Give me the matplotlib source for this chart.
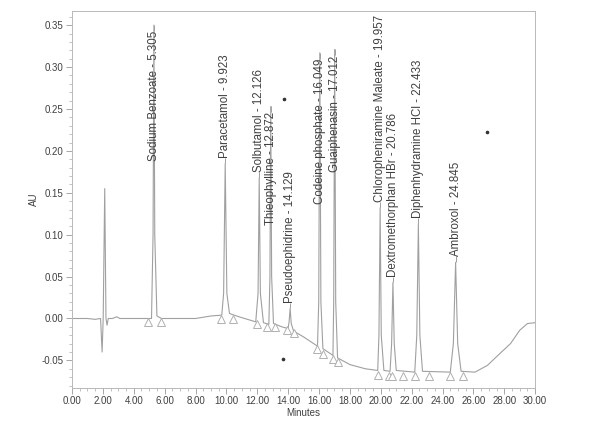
import matplotlib
matplotlib.use("Agg")
import matplotlib.pyplot as plt
from matplotlib.ticker import MultipleLocator, FormatStrFormatter

plt.rcParams['font.family'] = ['Liberation Sans', 'DejaVu Sans']

#-----Data-----#
# detector trace, minutes vs AU
trace_min = [0.0, 1.0, 1.5, 1.85, 1.95, 2.02, 2.12, 2.2, 2.27, 2.35, 2.6, 2.9, 3.1, 4.9,
             5.15, 5.25, 5.305, 5.36, 5.5, 5.8, 8.0, 9.0, 9.7,
             9.82, 9.923, 10.03, 10.2, 10.5, 11.0, 11.9,
             12.05, 12.126, 12.2, 12.4, 12.75,
             12.82, 12.872, 12.93, 13.05, 13.6, 14.0,
             14.06, 14.129, 14.2, 14.35, 15.0, 15.9,
             15.98, 16.049, 16.12, 16.25, 16.9,
             16.95, 17.012, 17.08, 17.2, 18.0, 19.0, 19.8,
             19.88, 19.957, 20.03, 20.2, 20.6,
             20.7, 20.786, 20.87, 21.0, 22.2,
             22.33, 22.433, 22.53, 22.7, 24.5,
             24.7, 24.845, 24.98, 25.2, 26.1, 26.9, 27.7, 28.4, 29.0, 29.5, 30.0]
trace_au = [0.0, 0.0, -0.001, 0.0, -0.040, 0.0, 0.155, 0.0, -0.008, 0.0, 0.0, 0.002, 0.0, 0.0,
            0.0, 0.10, 0.350, 0.10, 0.003, 0.0, 0.0, 0.003, 0.004,
            0.03, 0.185, 0.03, 0.006, 0.004, 0.001, -0.004,
            0.03, 0.168, 0.03, -0.005, -0.007,
            0.05, 0.253, 0.05, -0.006, -0.010, -0.012,
            -0.004, 0.012, -0.006, -0.015, -0.022, -0.033,
            0.02, 0.317, 0.02, -0.036, -0.044,
            0.02, 0.321, 0.02, -0.047, -0.055, -0.060, -0.062,
            -0.02, 0.132, -0.02, -0.062, -0.063,
            -0.03, 0.043, -0.03, -0.062, -0.064,
            -0.02, 0.113, -0.02, -0.063, -0.064,
            -0.03, 0.067, -0.03, -0.063, -0.064, -0.056, -0.042, -0.030, -0.014, -0.006, -0.005]

# named peaks
peak_names = ["Sodium Benzoate", "Paracetamol", "Solbutamol", "Thieophylline",
              "Pseudoephidrine", "Codeine phosphate", "Guaiphenasin",
              "Chloropheniramine Maleate", "Dextromethorphan HBr",
              "Diphenhydramine HCl", "Ambroxol"]
peak_rt = [5.305, 9.923, 12.126, 12.872, 14.129, 16.049, 17.012, 19.957, 20.786, 22.433, 24.845]
peak_au = [0.350, 0.185, 0.168, 0.253, 0.012, 0.317, 0.321, 0.132, 0.043, 0.113, 0.067]

# integration start/end markers
mark_min = [4.93, 5.77, 9.65, 10.43, 11.97, 12.65, 13.15, 13.95, 14.4, 15.9, 16.27,
            16.9, 17.25, 19.8, 20.5, 20.7, 21.45, 22.2, 23.1, 24.5, 25.35]
mark_au = [-0.004, -0.004, -0.001, -0.001, -0.007, -0.010, -0.010, -0.014, -0.017, -0.036, -0.042,
           -0.048, -0.052, -0.068, -0.069, -0.069, -0.069, -0.069, -0.069, -0.069, -0.069]

# specks on the scanned page
speck_min = [13.74, 13.67, 26.9]
speck_au = [0.262, -0.048, 0.223]

#-----Plot-----#
line_col = '#a0a0a0'
text_col = '#404040'

fig = plt.figure(figsize=(6, 4.37), dpi=100)
ax = fig.add_axes([0.12, 0.112, 0.772, 0.863])

ax.plot(trace_min, trace_au, color=line_col, lw=0.8)
ax.plot(mark_min, mark_au, linestyle='', marker='^', markersize=6,
        markerfacecolor='white', markeredgecolor='#b0b0b0', markeredgewidth=0.7)
ax.plot(speck_min, speck_au, linestyle='', marker='o', markersize=1.6, color='#333333')

ax.set_xlim(0, 30)
ax.set_ylim(-0.083, 0.367)
ax.xaxis.set_major_locator(MultipleLocator(2))
ax.xaxis.set_minor_locator(MultipleLocator(0.5))
ax.yaxis.set_major_locator(MultipleLocator(0.05))
ax.yaxis.set_minor_locator(MultipleLocator(0.01))
ax.xaxis.set_major_formatter(FormatStrFormatter('%.2f'))
ax.yaxis.set_major_formatter(FormatStrFormatter('%.2f'))
ax.tick_params(which='major', length=4, width=0.6, color='#999999', labelsize=7,
               labelcolor=text_col, pad=2)
ax.tick_params(which='minor', length=2, width=0.5, color='#aaaaaa')
for sp in ax.spines.values():
    sp.set_color('#b8b8b8')
    sp.set_linewidth(0.7)

ax.set_xlabel("Minutes", fontsize=7, color=text_col, labelpad=1)
ax.set_ylabel("AU", fontsize=7, color=text_col, labelpad=2)

# peak labels: above the apex if they fit, otherwise hanging below it
gap = 0.007
labels = []
for name, rt, au in zip(peak_names, peak_rt, peak_au):
    t = ax.text(rt, au + gap, f"{name} - {rt:.3f}", rotation=90, ha='center', va='bottom',
                fontsize=8.3, color=text_col)
    labels.append((t, rt, au))

fig.canvas.draw()
top = ax.get_window_extent().y1
for t, rt, au in labels:
    if t.get_window_extent().y1 > top:
        t.set_va('top')
        t.set_y(au - gap)
        ax.vlines(rt, au - gap, au, color=line_col, lw=0.7)
    else:
        ax.vlines(rt, au, au + gap, color=line_col, lw=0.7)

fig.savefig("out.png", dpi=100, facecolor='white')
